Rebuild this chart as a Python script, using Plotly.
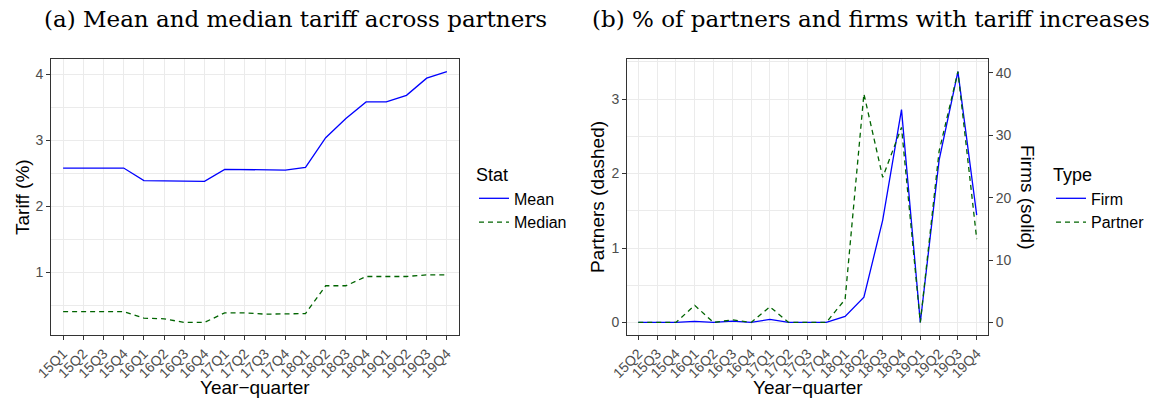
import plotly.graph_objects as go

# ---------------- data ----------------
quarters_a = ["15Q1", "15Q2", "15Q3", "15Q4", "16Q1", "16Q2", "16Q3", "16Q4",
              "17Q1", "17Q2", "17Q3", "17Q4", "18Q1", "18Q2", "18Q3", "18Q4",
              "19Q1", "19Q2", "19Q3", "19Q4"]
mean_tariff = [2.58, 2.58, 2.58, 2.58, 2.39, 2.39, 2.38, 2.38, 2.56, 2.56,
               2.55, 2.55, 2.59, 3.04, 3.33, 3.58, 3.58, 3.68, 3.94, 4.04]
median_tariff = [0.41, 0.41, 0.41, 0.41, 0.31, 0.30, 0.245, 0.245, 0.39, 0.39,
                 0.37, 0.37, 0.38, 0.80, 0.80, 0.94, 0.94, 0.94, 0.965, 0.965]

quarters_b = ["15Q2", "15Q3", "15Q4", "16Q1", "16Q2", "16Q3", "16Q4", "17Q1",
              "17Q2", "17Q3", "17Q4", "18Q1", "18Q2", "18Q3", "18Q4", "19Q1",
              "19Q2", "19Q3", "19Q4"]
partners_pct = [0, 0, 0, 0.23, 0, 0.035, 0, 0.21, 0, 0, 0, 0.31, 3.07, 1.95,
                2.62, 0, 2.30, 3.37, 1.12]
firms_pct = [0, 0, 0, 0.16, 0, 0.2, 0, 0.5, 0, 0, 0, 0.96, 4.04, 16.4, 34.1,
             0, 26.0, 40.2, 17.2]

# ---------------- styling ----------------
W, H = 1156, 400
BLUE = "#0000FF"
GREEN = "#006400"
GRID = "#EBEBEB"
FRAME = "#333333"
TICKTXT = "#4D4D4D"
SANS = "Liberation Sans, Arial, sans-serif"
SERIF = "DejaVu Serif, serif"


def px_x(p):
    return p / W


def px_y(p):
    return 1 - p / H


# panel boxes in pixels
A_L, A_R, TOP, BOT = 51, 459, 59, 335
B_L, B_R = 627, 988

# ranges (ggplot-like 5% expansion)
lo_a = min(median_tariff + mean_tariff)
hi_a = max(median_tariff + mean_tariff)
span_a = hi_a - lo_a
range_a = [lo_a - 0.05 * span_a, hi_a + 0.05 * span_a]

k = max(firms_pct) / max(partners_pct)  # secondary-axis scale
scaled_firms = [f / k for f in firms_pct]
lo_b = min(partners_pct + scaled_firms)
hi_b = max(partners_pct + scaled_firms)
span_b = hi_b - lo_b
range_partners = [lo_b - 0.05 * span_b, hi_b + 0.05 * span_b]
range_firms = [range_partners[0] * k, range_partners[1] * k]

fig = go.Figure()

fig.add_trace(go.Scatter(x=quarters_a, y=mean_tariff, mode="lines", name="Mean",
                         line=dict(color=BLUE, width=1.3), xaxis="x", yaxis="y",
                         legend="legend"))
fig.add_trace(go.Scatter(x=quarters_a, y=median_tariff, mode="lines", name="Median",
                         line=dict(color=GREEN, width=1.3, dash="5px,4px"),
                         xaxis="x", yaxis="y", legend="legend"))

# firms on base axis (y2, right side); partners on overlaying axis (y3, left side)
fig.add_trace(go.Scatter(x=quarters_b, y=firms_pct, mode="lines", name="Firm",
                         line=dict(color=BLUE, width=1.3), xaxis="x2", yaxis="y2",
                         legend="legend2"))
fig.add_trace(go.Scatter(x=quarters_b, y=partners_pct, mode="lines", name="Partner",
                         line=dict(color=GREEN, width=1.3, dash="5px,4px"),
                         xaxis="x2", yaxis="y3", legend="legend2"))

xcommon = dict(type="category", showgrid=True, gridcolor=GRID, gridwidth=1,
               ticks="outside", ticklen=4, tickcolor=FRAME, tickwidth=1,
               tickangle=-45, tickfont=dict(family=SANS, size=14, color=TICKTXT),
               showline=True, linecolor=FRAME, linewidth=1, mirror=True,
               zeroline=False, fixedrange=True, automargin=False)
ycommon = dict(showgrid=True, gridcolor=GRID, gridwidth=1,
               ticks="outside", ticklen=4, tickcolor=FRAME, tickwidth=1,
               tickfont=dict(family=SANS, size=14, color=TICKTXT),
               showline=True, linecolor=FRAME, linewidth=1, mirror=True,
               zeroline=False, tick0=0, dtick=1, automargin=False,
               minor=dict(dtick=0.5, tick0=0, showgrid=True, gridcolor=GRID,
                          gridwidth=0.6, ticks=""))

fig.update_layout(
    width=W, height=H,
    margin=dict(l=0, r=0, t=0, b=0, autoexpand=False),
    paper_bgcolor="white", plot_bgcolor="white",
    xaxis=dict(xcommon, domain=[px_x(A_L), px_x(A_R)], anchor="y",
               categoryorder="array", categoryarray=quarters_a,
               range=[-0.6, len(quarters_a) - 0.4]),
    yaxis=dict(ycommon, domain=[px_y(BOT), px_y(TOP)], anchor="x",
               range=range_a),
    xaxis2=dict(xcommon, domain=[px_x(B_L), px_x(B_R)], anchor="y2",
                categoryorder="array", categoryarray=quarters_b,
                range=[-0.6, len(quarters_b) - 0.4]),
    yaxis2=dict(domain=[px_y(BOT), px_y(TOP)], anchor="x2", side="right",
                range=range_firms, showgrid=False, zeroline=False,
                tick0=0, dtick=10, ticks="outside", ticklen=4, tickcolor=FRAME,
                tickwidth=1, tickfont=dict(family=SANS, size=14, color=TICKTXT),
                showline=False, automargin=False),
    yaxis3=dict(ycommon, overlaying="y2", anchor="x2", side="left",
                range=range_partners),
    legend=dict(x=px_x(474), y=px_y(158), xanchor="left", yanchor="top",
                bgcolor="rgba(0,0,0,0)",
                title=dict(text="Stat", font=dict(family=SANS, size=18, color="black")),
                font=dict(family=SANS, size=16, color="black"),
                itemwidth=30),
    legend2=dict(x=px_x(1051), y=px_y(158), xanchor="left", yanchor="top",
                 bgcolor="rgba(0,0,0,0)",
                 title=dict(text="Type", font=dict(family=SANS, size=18, color="black")),
                 font=dict(family=SANS, size=16, color="black"),
                 itemwidth=30),
)

annots = [
    dict(text="(a) Mean and median tariff across partners", x=px_x(295), y=px_y(19),
         font=dict(family=SERIF, size=23, color="black")),
    dict(text="(b) % of partners and firms with tariff increases", x=px_x(871), y=px_y(19),
         font=dict(family=SERIF, size=23, color="black")),
    dict(text="Tariff (%)", x=px_x(23), y=px_y((TOP + BOT) / 2), textangle=-90,
         font=dict(family=SANS, size=19, color="black")),
    dict(text="Year\u2212quarter", x=px_x((A_L + A_R) / 2), y=px_y(387),
         font=dict(family=SANS, size=19, color="black")),
    dict(text="Partners (dashed)", x=px_x(598), y=px_y((TOP + BOT) / 2), textangle=-90,
         font=dict(family=SANS, size=19, color="black")),
    dict(text="Firms (solid)", x=px_x(1027), y=px_y((TOP + BOT) / 2), textangle=90,
         font=dict(family=SANS, size=19, color="black")),
    dict(text="Year\u2212quarter", x=px_x((B_L + B_R) / 2), y=px_y(387),
         font=dict(family=SANS, size=19, color="black")),
]
for a in annots:
    a.update(xref="paper", yref="paper", showarrow=False,
             xanchor="center", yanchor="middle")
fig.update_layout(annotations=annots)

fig.write_html("out.html", config={"displayModeBar": False},
               post_script="document.body.style.margin='0';document.body.style.overflow='hidden';")
